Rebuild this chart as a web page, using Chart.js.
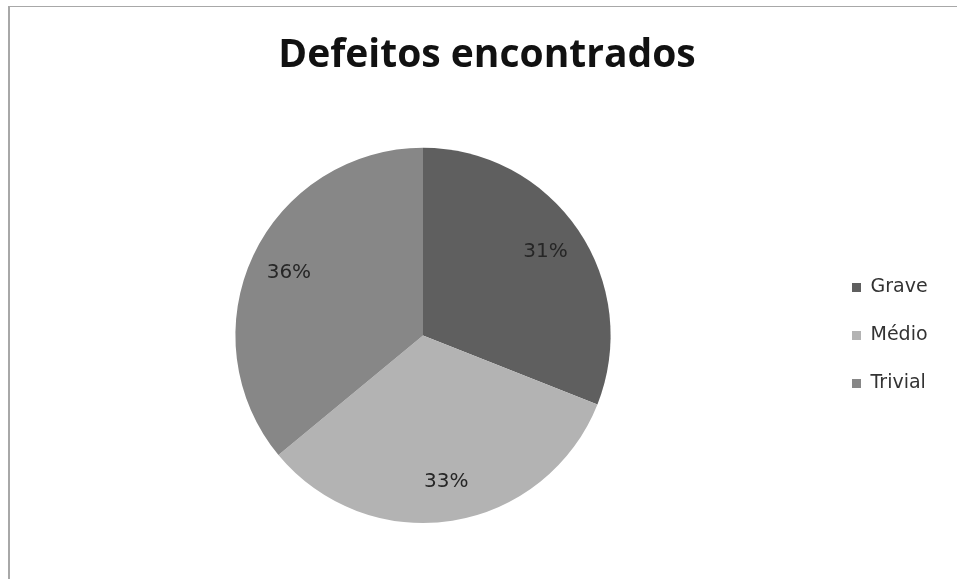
<!DOCTYPE html>
<html>
<head>
<meta charset="utf-8">
<script src="https://cdn.jsdelivr.net/npm/chart.js@4/dist/chart.umd.min.js"></script>
<style>
  html, body { margin: 0; padding: 0; background: #ffffff; }
  body { width: 957px; height: 579px; position: relative; overflow: hidden; }
  .frame {
    position: absolute; left: 8px; top: 6px; width: 1000px; height: 700px;
    border-left: 2px solid #a8a8a8; border-top: 1px solid #a8a8a8;
  }
  .chart-box { position: absolute; left: 0; top: 0; width: 957px; height: 579px; }
</style>
</head>
<body>
<div class="frame"></div>
<div class="chart-box"><canvas id="defectChart" width="957" height="579"></canvas></div>
<script>
// Chart data
const categories = ['Grave', 'Médio', 'Trivial'];
const percentages = [31, 33, 36];
const sliceColors = ['#5f5f5f', '#b3b3b3', '#878787'];

// Keep legend box a fixed width so the title and pie sit where Excel put them
const LEGEND_WIDTH = 128;
const legendSpace = {
  id: 'legendSpace',
  beforeLayout(chart) {
    const legend = chart.legend;
    if (!legend || legend._fixedWidth) return;
    const fit = legend.fit;
    legend.fit = function () {
      fit.call(this);
      this.width = LEGEND_WIDTH;
    };
    legend._fixedWidth = true;
  }
};

// Percent labels inside each slice
const sliceLabels = {
  id: 'sliceLabels',
  afterDatasetsDraw(chart) {
    const ctx = chart.ctx;
    const arcs = chart.getDatasetMeta(0).data;
    ctx.save();
    ctx.font = '20px "DejaVu Sans"';
    ctx.fillStyle = '#262626';
    ctx.textAlign = 'center';
    ctx.textBaseline = 'middle';
    arcs.forEach((arc, i) => {
      const p = arc.getProps(['x', 'y', 'startAngle', 'endAngle', 'outerRadius'], true);
      const mid = (p.startAngle + p.endAngle) / 2;
      const r = p.outerRadius * 0.79;
      ctx.fillText(percentages[i] + '%', p.x + Math.cos(mid) * r, p.y + Math.sin(mid) * r);
    });
    ctx.restore();
  }
};

const ctx = document.getElementById('defectChart').getContext('2d');
new Chart(ctx, {
  type: 'pie',
  data: {
    labels: categories,
    datasets: [{
      data: percentages,
      backgroundColor: sliceColors,
      borderWidth: 0
    }]
  },
  options: {
    responsive: false,
    animation: false,
    layout: { padding: { left: 23, right: 6, top: 0, bottom: 56 } },
    plugins: {
      title: {
        display: true,
        text: 'Defeitos encontrados',
        color: '#111111',
        font: { family: '"Open Sans"', size: 39, weight: 'bold', lineHeight: 1.2 },
        padding: { top: 32, bottom: 69 }
      },
      legend: {
        position: 'right',
        fullSize: false,
        labels: {
          boxWidth: 9,
          boxHeight: 9,
          padding: 29,
          color: '#333333',
          font: { family: '"DejaVu Sans"', size: 19 }
        }
      },
      tooltip: { enabled: false }
    }
  },
  plugins: [legendSpace, sliceLabels]
});
</script>
</body>
</html>
